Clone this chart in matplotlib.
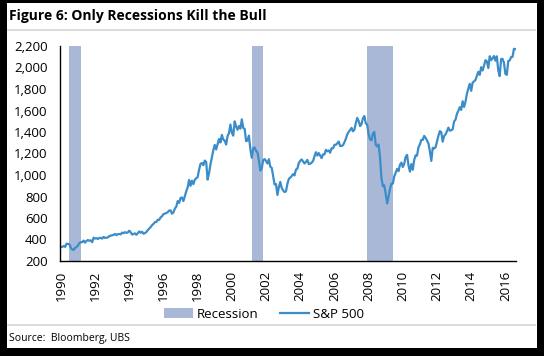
import matplotlib
matplotlib.use('Agg')
import matplotlib.pyplot as plt
from matplotlib.patches import Rectangle
from matplotlib.lines import Line2D

# monthly S&P 500 closes, Jan 1990 .. Aug 2016
start_year = 1990
sp500 = [
    329, 331, 340, 331, 361, 358, 356, 323, 306, 304, 322, 330,
    344, 367, 375, 375, 390, 371, 387, 395, 388, 392, 375, 417,
    409, 413, 404, 415, 415, 408, 424, 414, 418, 419, 431, 436,
    439, 443, 452, 440, 450, 451, 448, 464, 459, 468, 462, 466,
    482, 467, 446, 451, 457, 444, 458, 475, 463, 472, 454, 459,
    470, 487, 501, 515, 533, 545, 562, 562, 584, 582, 605, 616,
    636, 641, 646, 654, 669, 671, 640, 652, 687, 705, 757, 741,
    786, 791, 757, 801, 848, 885, 954, 899, 947, 915, 955, 970,
    980, 1049, 1102, 1112, 1091, 1134, 1121, 957, 1017, 1099, 1164, 1229,
    1280, 1238, 1286, 1335, 1302, 1373, 1329, 1320, 1283, 1363, 1389, 1469,
    1394, 1366, 1499, 1452, 1421, 1455, 1431, 1518, 1437, 1429, 1315, 1320,
    1366, 1240, 1160, 1249, 1256, 1224, 1211, 1134, 1041, 1060, 1139, 1148,
    1130, 1107, 1147, 1077, 1067, 990, 912, 916, 815, 886, 936, 880,
    856, 841, 848, 917, 964, 975, 990, 1008, 996, 1051, 1058, 1112,
    1131, 1145, 1126, 1107, 1121, 1141, 1102, 1104, 1115, 1130, 1174, 1212,
    1181, 1204, 1181, 1157, 1192, 1191, 1234, 1220, 1229, 1207, 1249, 1248,
    1280, 1281, 1295, 1311, 1270, 1270, 1277, 1304, 1336, 1378, 1401, 1418,
    1438, 1407, 1421, 1482, 1531, 1503, 1455, 1474, 1527, 1549, 1481, 1468,
    1379, 1331, 1323, 1386, 1400, 1280, 1267, 1283, 1166, 969, 896, 903,
    826, 735, 798, 873, 919, 919, 987, 1021, 1057, 1036, 1096, 1115,
    1074, 1104, 1169, 1187, 1089, 1031, 1102, 1049, 1141, 1183, 1181, 1258,
    1286, 1327, 1326, 1364, 1345, 1321, 1292, 1219, 1131, 1253, 1247, 1258,
    1312, 1366, 1408, 1398, 1310, 1362, 1379, 1407, 1441, 1412, 1416, 1426,
    1498, 1515, 1569, 1598, 1631, 1606, 1686, 1633, 1682, 1757, 1806, 1848,
    1783, 1859, 1872, 1884, 1924, 1960, 1931, 2003, 1972, 2018, 2068, 2059,
    1995, 2105, 2068, 2086, 2107, 2063, 2104, 1972, 1920, 2079, 2080, 2044,
    1940, 1932, 2060, 2065, 2097, 2099, 2174, 2171,
]
dates = [start_year + i / 12 for i in range(len(sp500))]

# NBER recessions (decimal years)
rec_start = [1990.5, 2001.17, 2007.92]
rec_end = [1991.17, 2001.83, 2009.42]

xticks = list(range(1990, 2017, 2))
yticks = list(range(200, 2201, 200))

line_col = '#3a8dc8'
bar_col = '#a9b8d6'
font = 'Open Sans'

fig = plt.figure(figsize=(5.44, 3.56), dpi=100, facecolor='black')
W, H = 544, 356
fig.patches.append(Rectangle((7 / W, 8 / H), 530 / W, 345 / H, transform=fig.transFigure,
                             facecolor='white', edgecolor='none', zorder=-10))

ax = fig.add_axes([60 / W, 95 / H, 456 / W, 215 / H])
for s, e in zip(rec_start, rec_end):
    ax.axvspan(s, e, color=bar_col, lw=0, label='Recession' if s == rec_start[0] else None)
ax.plot(dates, sp500, color=line_col, lw=1.6, label='S&P 500')

ax.set_xlim(1989.95, 2016.62)
ax.set_ylim(200, 2200)
ax.set_xticks(xticks)
ax.set_xticklabels([str(x) for x in xticks], rotation=90, family=font, fontsize=9.5)
ax.set_yticks(yticks)
ax.set_yticklabels(['{:,}'.format(y) for y in yticks], family=font, fontsize=9.5)
ax.tick_params(axis='both', length=0)
ax.tick_params(axis='y', pad=9)
ax.tick_params(axis='x', pad=7)
for side in ['top', 'right']:
    ax.spines[side].set_visible(False)
for side in ['left', 'bottom']:
    ax.spines[side].set_color('black')
    ax.spines[side].set_linewidth(1.0)

fig.legend(loc='center', bbox_to_anchor=(264 / W, 1 - 314 / H), ncol=2, frameon=False,
           prop={'family': font, 'size': 9.5}, handlelength=2.2, columnspacing=1.6,
           handletextpad=0.3)

fig.text(9 / W, 1 - 16 / H, 'Figure 6: Only Recessions Kill the Bull', family=font,
         fontweight='bold', fontsize=10, va='center', ha='left')
fig.text(9 / W, 1 - 338 / H, 'Source:  Bloomberg, UBS', family=font, fontsize=7.5,
         va='center', ha='left')
for yy in [30, 325]:
    fig.add_artist(Line2D([8 / W, 535 / W], [1 - yy / H, 1 - yy / H], color='#d4d4d4',
                          lw=1.2, transform=fig.transFigure))

plt.savefig('out.png', dpi=100, facecolor=fig.get_facecolor())
